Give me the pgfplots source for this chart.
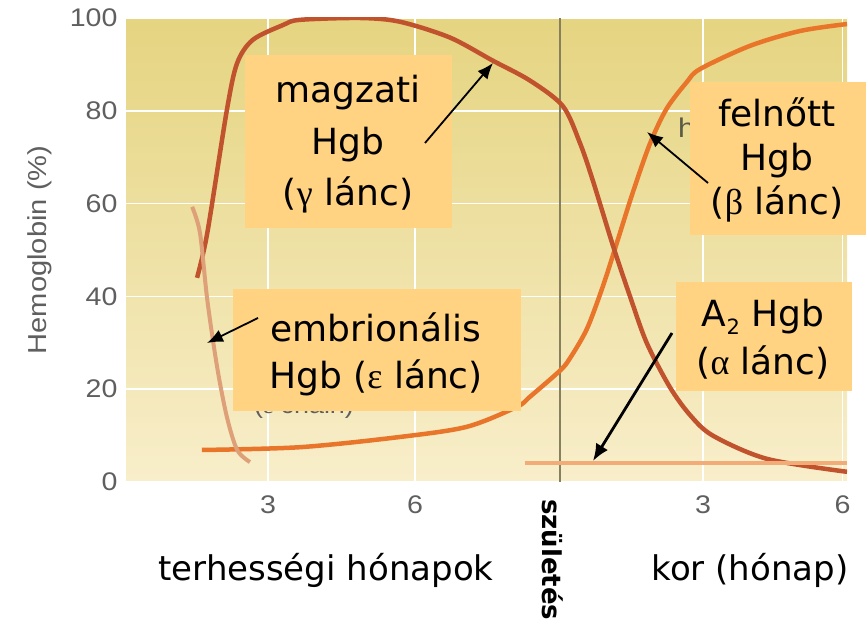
\documentclass[border=0pt]{standalone}
\usepackage{fontspec}
\setmainfont{DejaVu Sans}
\newfontfamily\greek{Liberation Serif}
\newfontfamily\axisfont[FakeStretch=1.12]{Liberation Sans}
\usepackage{pgfplots}
\pgfplotsset{compat=1.18}
\usetikzlibrary{arrows.meta}
\definecolor{bgtop}{RGB}{229,212,128}
\definecolor{bgbot}{RGB}{248,238,202}
\definecolor{boxc}{RGB}{255,211,130}
\definecolor{fetal}{RGB}{192,82,45}
\definecolor{adult}{RGB}{232,117,42}
\definecolor{embr}{RGB}{222,160,120}
\definecolor{atwo}{RGB}{242,172,122}
\definecolor{birth}{RGB}{135,128,95}
\definecolor{tickgray}{RGB}{95,95,95}
\newcommand\ann{\fontsize{36}{36}\selectfont}
\newcommand\lab{\fontsize{34}{34}\selectfont}
\begin{document}
\begin{tikzpicture}[x=1pt,y=1pt]
\useasboundingbox (0,0) rectangle (867,624);
\begin{axis}[
  at={(126pt,142pt)}, anchor=south west,
  scale only axis, width=721pt, height=464pt,
  xmin=0.1, xmax=14.82, ymin=0, ymax=100,
  axis line style={draw=none},
  major tick length=0pt,
  xtick={3,6,11.88,14.73}, xticklabels={3,6,3,6},
  ytick={0,20,40,60,80,100},
  grid=major, grid style={white, line width=1.6pt},
  axis background/.style={top color=bgtop, bottom color=bgbot},
  ticklabel style={font=\axisfont\fontsize{25.5}{25.5}\selectfont, text=tickgray},
  /pgf/number format/assume math mode=true,
  xticklabel style={yshift=-10pt},
  yticklabel style={xshift=-5pt},
  ylabel={Hemoglobin (\%)},
  ylabel style={font=\axisfont\fontsize{26}{26}\selectfont, text=tickgray,
    at={(axis description cs:-0.119,0.5)}, anchor=center},
]
\addplot[birth, line width=1.3pt] coordinates {(8.96,0) (8.96,100)};
\addplot[adult, line width=4.5pt, smooth] coordinates {
 (1.65,6.9) (3.65,7.5) (5.69,9.7) (7.06,11.9) (8.08,16.2) (8.35,18.4)
 (8.96,24.0) (9.16,26.6) (9.51,33.0) (9.84,42.3) (10.12,51.5) (10.45,62.5) (10.80,73.0)
 (11.14,80.5) (11.55,86.2) (11.82,89.0) (12.84,94.0) (13.86,97.2) (14.82,98.7)};
\addplot[fetal, line width=4.5pt, smooth] coordinates {
 (1.55,44) (1.76,53.7) (2.16,80.2) (2.37,90.3) (2.69,95.3) (3.31,98.5)
 (3.65,99.6) (4.88,100) (5.69,99.2) (6.71,95.8) (7.59,90.8) (8.35,86.5)
 (9.02,81.0) (9.37,73.0) (9.63,65.0) (10.04,51.0) (10.39,40.0) (10.73,30.0)
 (11.20,20.5) (11.61,14.5) (12.08,10.0) (13.18,5.0) (14.82,2.2)};
\addplot[embr, line width=4pt, smooth] coordinates {
 (1.45,59.3) (1.61,53.7) (1.76,39.2) (1.96,24.8) (2.16,14.0) (2.37,6.9) (2.63,4.3)};
\addplot[atwo, line width=4pt] coordinates {(8.24,4.1) (14.82,4.1)};
\end{axis}
\begin{scope}[x=1pt, y=-1pt, shift={(0pt,624pt)}]
% residual text of the original figure
\node[anchor=base west, inner sep=0, text=tickgray, font=\axisfont\fontsize{24}{24}\selectfont] at (254,414) {(\greek ε\axisfont{} chain)};
\node[anchor=base west, inner sep=0, text={rgb,255:red,90;green,90;blue,70}, font=\axisfont\fontsize{27}{27}\selectfont] at (678,138) {hb};
% boxes
\fill[boxc] (245,55) rectangle (452,228);
\fill[boxc] (690,82) rectangle (866,235);
\fill[boxc] (233,289) rectangle (521,411);
\fill[boxc] (676,282) rectangle (852,391);
\node[anchor=base, inner sep=0, font=\ann] at (348,103) {magzati};
\node[anchor=base, inner sep=0, font=\ann] at (348,155) {Hgb};
\node[anchor=base, inner sep=0, font=\ann] at (348,206) {(\greek γ\rmfamily{} lánc)};
\node[anchor=base, inner sep=0, font=\ann] at (777,127) {felnőtt};
\node[anchor=base, inner sep=0, font=\ann] at (777,171) {Hgb};
\node[anchor=base, inner sep=0, font=\ann] at (777,215) {(\greek β\rmfamily{} lánc)};
\node[anchor=base, inner sep=0, font=\ann] at (376,342) {embrionális};
\node[anchor=base, inner sep=0, font=\ann] at (376,389) {Hgb (\greek ε\rmfamily{} lánc)};
\node[anchor=base, inner sep=0, font=\ann] at (763,327) {A\raisebox{-0.22em}{\fontsize{21}{21}\selectfont 2} Hgb};
\node[anchor=base, inner sep=0, font=\ann] at (763,375) {(\greek α\rmfamily{} lánc)};
% arrows
\draw[line width=1.8pt, -{Latex[length=16pt,width=13pt]}] (425,143) -- (493,63);
\draw[line width=1.8pt, -{Latex[length=16pt,width=13pt]}] (708,183) -- (647,132);
\draw[line width=1.8pt, -{Latex[length=16pt,width=13pt]}] (258,318) -- (207,343);
\draw[line width=2.8pt, -{Latex[length=17pt,width=14pt]}] (672,333) -- (593,461);
% x descriptions
\node[anchor=base, inner sep=0, font=\lab] at (326,580) {terhességi hónapok};
\node[anchor=base, inner sep=0, font=\lab] at (750,580) {kor (hónap)};
\node[rotate=-90, anchor=west, inner sep=0, font=\bfseries\fontsize{26}{26}\selectfont] at (553,499) {születés};
\end{scope}
\end{tikzpicture}
\end{document}
